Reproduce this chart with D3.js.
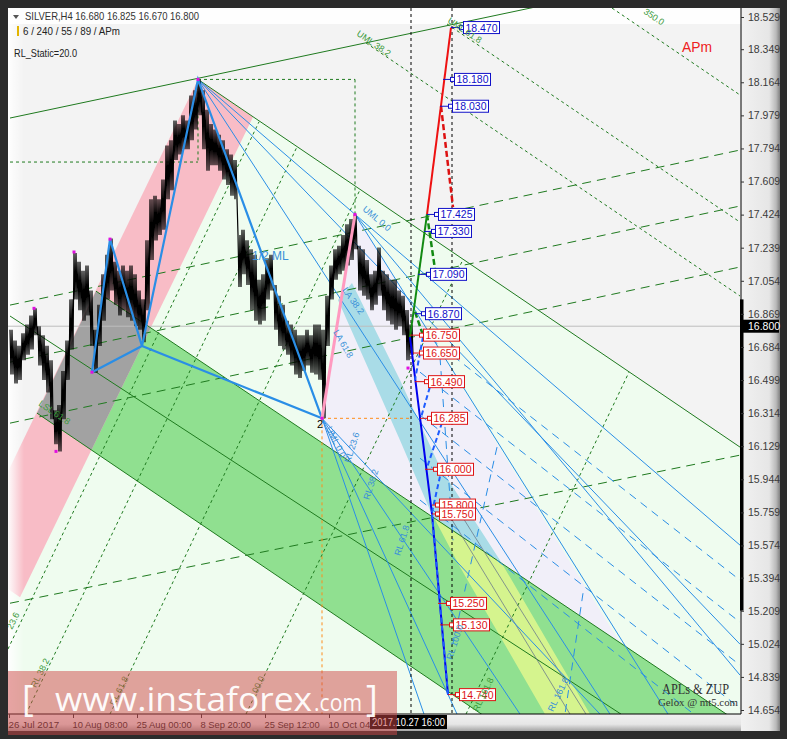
<!DOCTYPE html>
<html><head><meta charset="utf-8">
<script src="https://cdn.jsdelivr.net/npm/d3@7"></script>
<style>html,body{margin:0;padding:0;background:#2b2b2b;}svg{display:block;}</style>
</head><body><svg id="c" width="787" height="739"></svg>
<script>
// ---------------- DATA ----------------
const priceTicks=[18.529,18.349,18.164,17.979,17.794,17.609,17.424,17.239,17.054,16.869,16.684,16.499,16.314,16.129,15.944,15.759,15.574,15.394,15.209,15.024,14.839,14.654];
const lastPrice=16.800;
const timeBars=[0,64,128,192,256,320];
const timeLabels=["26 Jul 2017","10 Aug 08:00","25 Aug 00:00","8 Sep 20:00","25 Sep 12:00","10 Oct 04:00"];
const cursorBar=402, cursorLabel="2017.10.27 16:00";
const guideBars=[402,443];
// H4 price trace, one high/low sample every 4 bars starting at bar 1
const barStart=1, barStep=4;
const priceHi=[16.78,16.72,16.69,16.76,16.81,16.86,16.90,16.80,16.75,16.69,16.61,16.33,16.36,16.55,16.72,16.95,17.21,17.16,17.11,17.14,17.00,16.78,16.92,17.09,17.20,17.29,17.16,17.11,17.14,17.11,17.14,17.09,17.00,16.95,17.28,17.51,17.53,17.51,17.62,17.81,17.84,17.95,17.93,17.98,17.95,18.09,18.12,18.18,18.12,18.01,17.93,17.90,17.87,17.84,17.79,17.76,17.73,17.31,17.34,17.28,17.23,17.20,17.06,17.09,17.18,17.20,17.03,16.97,16.92,16.83,16.81,16.78,16.75,16.75,16.78,16.75,16.81,16.81,16.78,16.97,17.14,17.23,17.25,17.31,17.37,17.40,17.425,17.25,17.23,17.17,17.09,17.11,17.24,17.11,17.09,17.06,17.06,17.00,16.97,16.89,16.81];
const priceLo=[16.53,16.48,16.50,16.61,16.64,16.67,16.75,16.58,16.50,16.43,16.28,16.14,16.10,16.28,16.50,16.67,16.95,16.89,16.83,16.86,16.69,16.54,16.69,16.83,16.95,17.00,16.92,16.86,16.89,16.85,16.83,16.80,16.78,16.71,16.89,17.17,17.28,17.31,17.34,17.51,17.56,17.73,17.76,17.79,17.79,17.84,17.90,17.98,17.79,17.67,17.70,17.70,17.67,17.62,17.59,17.53,17.51,17.02,17.09,17.03,16.89,16.83,16.81,16.83,16.95,17.00,16.78,16.69,16.67,16.64,16.58,16.53,16.51,16.55,16.58,16.54,16.53,16.50,16.285,16.69,16.95,17.06,17.09,17.11,17.14,17.17,17.23,17.00,16.97,16.95,16.89,16.92,16.97,16.89,16.83,16.81,16.78,16.80,16.75,16.61,16.64];
// pivots [bar, price]
const pivots=[[25,16.90],[47,16.10],[65,17.215],[83,16.543],[101,17.287],[189,18.18],[346,17.425],[313,16.285],[399,16.566]];
// filled regions [bar, price]
const lightGreenZone=[[189,18.18],[731,16.124],[731,14.55],[-123,14.55]];
const lavenderZone=[[346,17.425],[617,14.977],[313,16.146],[313,16.285]];
const cyanZone=[[329,16.946],[391,16.163],[421,15.772],[451,15.453],[536,14.631],[581,14.631],[491,15.492],[431,16.012],[391,16.499],[343,17.041]];
const greenZone=[[87,16.996],[731,14.58],[731,13.652],[28,16.314]];
const pinkZone=[[189,18.18],[244,17.97],[11,15.285],[-44,15.492]];
// lines [bar, price]
const greenSolid=[[[1,17.964],[551,18.614]],[[189,18.18],[731,16.124]],[[87,16.996],[731,14.58]],[[28,16.314],[731,13.652]],[[1,16.857],[612,14.631]]];
const greenLongDash=[[[1,15.251],[731,16.079]],[[1,16.258],[731,17.131]],[[1,16.599],[731,17.472]],[[1,16.918],[731,17.785]]];
const greenShortDash=[[[357,18.384],[731,16.969]],[[438,18.490],[731,17.382]],[[603,18.579],[731,18.093]],
 [[-32,14.631],[250,17.943]],[[17,14.631],[288,17.803]],[[101,14.631],[351,17.563]],[[237,14.631],[454,17.173]],[[457,14.631],[620,16.543]],
 [[1,17.718],[189,17.718]],[[189,18.18],[189,17.718]],[[189,18.18],[346,18.18]],[[346,18.18],[346,17.425]]];
const blueThin=[[[189,18.18],[731,15.576]],[[189,18.18],[731,15.022]],[[189,18.18],[601,14.631]],
 [[346,17.425],[659,14.631]],[[346,17.425],[731,14.849]],
 [[313,16.285],[415,14.631]],[[313,16.285],[448,14.631]],[[313,16.285],[511,14.631]],[[313,16.285],[591,14.631]]];
const blueDash=[[[411,16.778],[731,15.380]],[[411,16.543],[731,15.145]],[[411,16.303],[731,14.905]],[[411,16.062],[731,14.664]],[[411,15.828],[731,14.429]],
 [[488,16.124],[444,15.028]],[[574,15.307],[556,14.631]],[[431,16.627],[444,15.603]]];
const grayThin=[[[431,15.828],[561,14.631]],[[446,15.80],[577,14.631]]];
const zupPath1=[[83,16.543],[101,17.287],[133,16.689],[189,18.18],[313,16.285]];
const zupPath2=[[83,16.543],[133,16.689],[313,16.285]];
const pinkLeg=[[313,16.285],[346,17.425]];
const orangeDash=[[[313,16.285],[402,16.285]],[[313,16.285],[313,14.55]]];
// projections
const redSolid=[[418,17.425],[442,18.470]];
const redDash=[[432,18.03],[444,17.466]];
const greenProj=[[401,16.739],[418,17.425]];
const greenProjDash=[[[418,17.425],[427,17.08]],[[406,16.88],[414,16.75]]];
const blueProj=[[401,16.739],[423,15.75],[439,14.74]];
const blueProjDash=[[[414,16.74],[406,16.50]],[[423,16.50],[412,16.29]],[[433,16.26],[418,16.01]],[[431,15.96],[423,15.76]],[[423,15.75],[439,14.74]]];
// level labels [price, leader-start bar, marker bar, colour kind]
const levelLabels=[[18.470,442,452,"b"],[18.180,434,443,"b"],[18.030,431,441,"b"],[17.425,418,427,"b"],[17.330,415,424,"b"],[17.090,409,419,"b"],[16.870,406,414,"b"],
 [16.750,401,412,"r"],[16.650,404,412,"r"],[16.490,406,417,"r"],[16.285,411,420,"r"],[16.000,416,426,"r"],[15.800,423,428,"r"],[15.750,423,428,"r"],[15.250,429,439,"r"],[15.130,431,442,"r"],[14.740,439,448,"r"]];
// small line captions [bar, price, angle, text, colour]
const captions=[[347,18.428,34,"UML 38.2","#3c9a3c"],[438,18.501,34,"UML 61.8","#3c9a3c"],[634,18.551,34,"350.0","#3c9a3c"],
 [3,15.101,-64,"23.6","#3c9a3c"],[27,14.776,-64,"RL 38.2","#3c9a3c"],[106,14.675,-64,"RL 61.8","#3c9a3c"],[246,14.720,-64,"100.0","#3c9a3c"],[469,14.642,-64,"RL 161.8","#3c9a3c"],
 [29,16.359,34,"LSL 61.8","#3c9a3c"],
 [544,14.642,-64,"RL 161.8","#3a90d8"],[341,16.034,-72,"RL 23.6","#3a90d8"],[360,15.827,-72,"RL 38.2","#3a90d8"],[391,15.514,-72,"RL 61.8","#3a90d8"],[443,14.932,-72,"RL 100.0","#3a90d8"],
 [353,17.45,40,"UML 0.0","#3a90d8"],[333,17.002,55,"LA 38.2","#3a90d8"],[324,16.767,60,"LA 61.8","#3a90d8"],[317,16.23,64,"UML 0.0","#3a90d8"]];

// ---------------- SCALES ----------------
const x=d3.scaleLinear().domain([0,732]).range([9,741]);
const y=d3.scaleLinear().domain([14.654,18.529]).range([710,17]);
const F="'Liberation Sans', Arial, sans-serif";
const svg=d3.select("#c");
const defs=svg.append("defs");
const L=d3.line().x(d=>x(d[0])).y(d=>y(d[1]));
const poly=p=>L(p)+"Z";

// frame
svg.append("rect").attr("width",787).attr("height",739).attr("fill","#2b2b2b");
const gA=defs.append("linearGradient").attr("id","gAx");
[[0,"#f1f1f1"],[0.72,"#e6e6e6"],[0.9,"#b9b9b9"],[1,"#808080"]].forEach(s=>gA.append("stop").attr("offset",s[0]).attr("stop-color",s[1]));
const gB=defs.append("linearGradient").attr("id","gBt").attr("x1",0).attr("y1",0).attr("x2",0).attr("y2",1);
[[0,"#f1f1f1"],[0.6,"#e6e6e6"],[1,"#a5a5a5"]].forEach(s=>gB.append("stop").attr("offset",s[0]).attr("stop-color",s[1]));
const gL=defs.append("linearGradient").attr("id","gLf");
[[0,"#ffffff",0.95],[1,"#ffffff",0]].forEach(s=>gL.append("stop").attr("offset",s[0]).attr("stop-color",s[1]).attr("stop-opacity",s[2]));
svg.append("rect").attr("x",741).attr("y",8).attr("width",39).attr("height",723).attr("fill","url(#gAx)");
svg.append("rect").attr("x",8).attr("y",714).attr("width",733).attr("height",17).attr("fill","url(#gBt)");
svg.append("rect").attr("x",8).attr("y",8).attr("width",733).attr("height",706).attr("fill","#f3f3f3");

defs.append("clipPath").attr("id","plotClip").append("rect").attr("x",8).attr("y",8).attr("width",733).attr("height",706);
defs.append("clipPath").attr("id","cpPink").append("path").attr("d",poly(pinkZone));
defs.append("clipPath").attr("id","cpGreen").append("path").attr("d",poly(greenZone));
const g=svg.append("g").attr("clip-path","url(#plotClip)");

// fills
g.append("path").attr("d",poly(lightGreenZone)).attr("fill","#effcef");
g.append("path").attr("d",poly(lavenderZone)).attr("fill","#f1eff9");
g.append("path").attr("d",poly(cyanZone)).attr("fill","#a9dce7");
g.append("path").attr("d",poly(greenZone)).attr("fill","#90e090");
g.append("path").attr("d",poly(pinkZone)).attr("fill","#f8bcc6");
g.append("path").attr("d",poly(greenZone)).attr("fill","#a2a2a2").attr("clip-path","url(#cpPink)");
g.append("path").attr("d",poly(cyanZone)).attr("fill","#d5f48e").attr("clip-path","url(#cpGreen)");
// vignette
g.append("rect").attr("x",8).attr("y",8).attr("width",733).attr("height",16).attr("fill","#ffffff").attr("opacity",0.85);
g.append("rect").attr("x",8).attr("y",8).attr("width",16).attr("height",706).attr("fill","url(#gLf)");

function ln(pts,stroke,w,dash){g.append("path").attr("d",L(pts)).attr("fill","none").attr("stroke",stroke).attr("stroke-width",w).attr("stroke-dasharray",dash||null);}

// current price line
ln([[-10,lastPrice],[740,lastPrice]],"#bdbdbd",1);
// structure lines
greenSolid.forEach(p=>ln(p,"#1f7a1f",1));
greenLongDash.forEach(p=>ln(p,"#1f7a1f",1,"9,6"));
greenShortDash.forEach(p=>ln(p,"#1f7a1f",1,"3,3"));
grayThin.forEach(p=>ln(p,"#6c7c8c",0.8));
blueThin.forEach(p=>ln(p,"#2a8ee6",1));
blueDash.forEach(p=>ln(p,"#2a8ee6",1,"8,6"));
orangeDash.forEach(p=>ln(p,"#ff8c1a",1,"3,3"));
guideBars.forEach(b=>g.append("line").attr("x1",x(b)).attr("x2",x(b)).attr("y1",8).attr("y2",714).attr("stroke","#000").attr("stroke-dasharray","3,3"));

// price trace: each high/low sample is swept bar by bar across its 4 bars
const tr=[];
priceHi.forEach((h,i)=>{const b=barStart+i*barStep; tr.push([b,h],[b+1,priceLo[i]],[b+2,h],[b+3,priceLo[i]]);});
ln(tr,"#000",1.2);

// ZUP pattern
ln(zupPath1,"#2a8ee6",2.2);
ln(zupPath2,"#2a8ee6",2.2);
ln(pinkLeg,"#ff9ac0",3);

// projections
ln(redSolid,"#ee1111",2);
ln(redDash,"#dd1111",2.5,"6,3");
ln(greenProj,"#128a12",2);
greenProjDash.forEach(p=>ln(p,"#128a12",2.5,"6,3"));
ln(blueProj,"#0000ee",2);
blueProjDash.forEach(p=>ln(p,"#1e5cff",2,"5,3"));

// pivots
pivots.forEach(p=>g.append("rect").attr("x",x(p[0])-1.5).attr("y",y(p[1])-1.5).attr("width",3).attr("height",3).attr("fill","#e010e0"));

// level labels
levelLabels.forEach(r=>{
  const col=r[3]==="b"?"#1010c8":"#dd1414";
  const yy=y(r[0]), x0=x(r[1]), xm=x(r[2]);
  g.append("line").attr("x1",x0).attr("x2",xm).attr("y1",yy).attr("y2",yy).attr("stroke",col).attr("stroke-width",1);
  g.append("rect").attr("x",xm-1.5).attr("y",yy-2).attr("width",4).attr("height",4).attr("fill","#fff").attr("stroke",col);
  g.append("rect").attr("x",xm+2.5).attr("y",yy-6).attr("width",36).attr("height",12).attr("fill","#fff").attr("stroke",col);
  g.append("text").attr("x",xm+4.5).attr("y",yy+4).attr("font-family",F).attr("font-size",11).attr("fill",col)
    .attr("textLength",32).attr("lengthAdjust","spacingAndGlyphs").text(d3.format(".3f")(r[0]));
});

// captions
captions.forEach(c=>g.append("text").attr("transform",`translate(${x(c[0])},${y(c[1])}) rotate(${c[2]})`)
  .attr("font-family",F).attr("font-size",9).attr("fill",c[4]).text(c[3]));
g.append("text").attr("x",x(243)).attr("y",y(17.17)).attr("font-family",F).attr("font-size",12).attr("fill","#3a90d8").text("1/2 ML");
g.append("text").attr("x",x(308)).attr("y",y(16.23)).attr("font-family",F).attr("font-size",11).attr("fill","#000").text("2");

// header texts
svg.append("path").attr("d","M13,15 L19,15 L16,19 Z").attr("fill","#555");
svg.append("text").attr("x",25).attr("y",20).attr("font-family",F).attr("font-size",11).attr("fill","#333")
  .attr("textLength",174).attr("lengthAdjust","spacingAndGlyphs").text("SILVER,H4  16.680 16.825 16.670 16.800");
svg.append("rect").attr("x",17).attr("y",26).attr("width",2).attr("height",10).attr("fill","#e2b400");
svg.append("text").attr("x",23).attr("y",35).attr("font-family",F).attr("font-size",11).attr("fill","#222")
  .attr("textLength",97).attr("lengthAdjust","spacingAndGlyphs").text("6 / 240 / 55 / 89 / APm");
svg.append("text").attr("x",14).attr("y",57).attr("font-family",F).attr("font-size",11).attr("fill","#222")
  .attr("textLength",63).attr("lengthAdjust","spacingAndGlyphs").text("RL_Static=20.0");
svg.append("text").attr("x",682).attr("y",52).attr("font-family",F).attr("font-size",14).attr("fill","#ee2020")
  .attr("textLength",30).attr("lengthAdjust","spacingAndGlyphs").text("APm");
svg.append("text").attr("x",662).attr("y",694).attr("font-family","'Liberation Serif', 'DejaVu Serif', serif").attr("font-size",14).attr("fill","#333")
  .attr("textLength",67).attr("lengthAdjust","spacingAndGlyphs").text("APLs & ZUP");
svg.append("text").attr("x",658).attr("y",706).attr("font-family","'Liberation Serif', 'DejaVu Serif', serif").attr("font-size",10).attr("fill","#333")
  .attr("textLength",80).attr("lengthAdjust","spacingAndGlyphs").text("Gelox @ mt5.com");

// axes
svg.append("line").attr("x1",741).attr("x2",741).attr("y1",8).attr("y2",714).attr("stroke","#000");
svg.append("line").attr("x1",8).attr("x2",741).attr("y1",714).attr("y2",714).attr("stroke","#000");
svg.append("rect").attr("x",740).attr("y",y(16.95)).attr("width",3.5).attr("height",y(15.21)-y(16.95)).attr("fill","#000");
const ya=svg.append("g").attr("transform","translate(741,0)")
  .call(d3.axisRight(y).tickValues(priceTicks).tickFormat(d3.format(".3f")).tickSize(3).tickSizeOuter(0).tickPadding(4));
ya.select(".domain").remove();
ya.selectAll("text").attr("font-family",F).attr("font-size",10.5).attr("fill","#3a3a3a");
ya.selectAll("line").attr("stroke","#333");
const xa=svg.append("g").attr("transform","translate(0,714)")
  .call(d3.axisBottom(x).tickValues(timeBars).tickFormat((d,i)=>timeLabels[i]).tickSize(4).tickSizeOuter(0).tickPadding(3));
xa.select(".domain").remove();
xa.selectAll("text").attr("font-family",F).attr("font-size",9.5).attr("fill","#222").attr("text-anchor","start").attr("dx",-1)
  .attr("textLength",(d,i)=>timeLabels[i].length*4.6).attr("lengthAdjust","spacingAndGlyphs");
xa.selectAll("line").attr("stroke","#333");
// current price box
svg.append("rect").attr("x",741).attr("y",y(lastPrice)-6.5).attr("width",38).attr("height",13).attr("fill","#000");
svg.append("text").attr("x",748).attr("y",y(lastPrice)+4).attr("font-family",F).attr("font-size",10.5).attr("fill","#fff").text(d3.format(".3f")(lastPrice));
// cursor time box
svg.append("rect").attr("x",x(cursorBar)-41).attr("y",715).attr("width",77).attr("height",14).attr("fill","#000");
svg.append("text").attr("x",x(cursorBar)-39).attr("y",726).attr("font-family",F).attr("font-size",10).attr("fill","#fff")
  .attr("textLength",73).attr("lengthAdjust","spacingAndGlyphs").text(cursorLabel);

// watermark
svg.append("rect").attr("x",8).attr("y",671).attr("width",389).attr("height",64).attr("fill","#d04848").attr("opacity",0.5);
const wm=svg.append("g").attr("fill","#ffffff").attr("opacity",0.95).attr("font-family","'Open Sans', 'Noto Sans', sans-serif");
wm.append("text").attr("x",22).attr("y",711).attr("font-size",36).text("[");
wm.append("text").attr("x",55).attr("y",711).attr("font-size",33).attr("textLength",257).attr("lengthAdjust","spacingAndGlyphs").text("www.instaforex");
wm.append("text").attr("x",314).attr("y",711).attr("font-size",24).attr("textLength",48).attr("lengthAdjust","spacingAndGlyphs").text(".com");
wm.append("text").attr("x",366).attr("y",711).attr("font-size",36).text("]");
</script></body></html>
